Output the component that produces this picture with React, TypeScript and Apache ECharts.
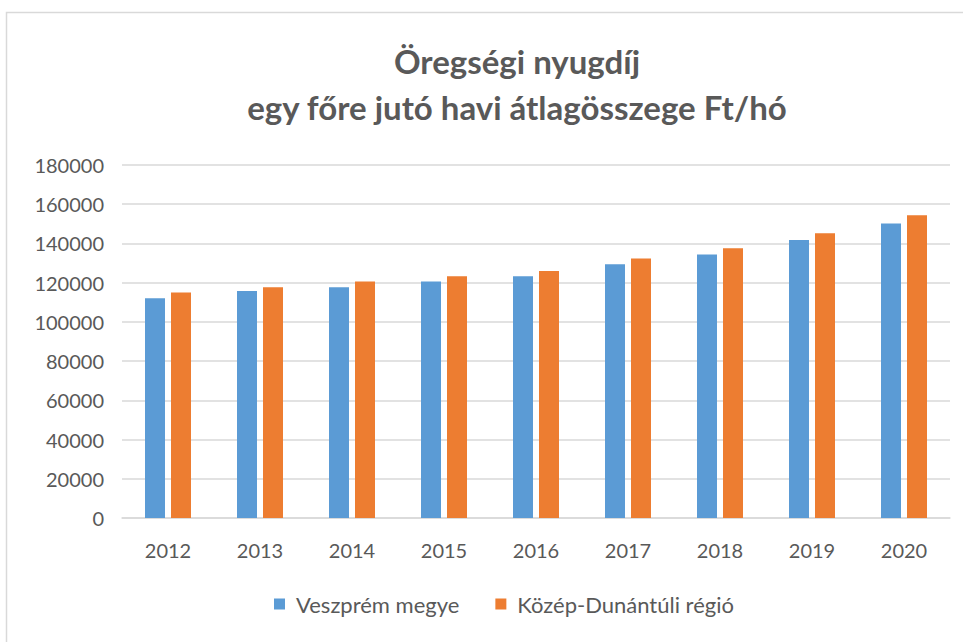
import React, { useEffect, useRef } from "react";
import * as echarts from "echarts";

const categories = ["2012", "2013", "2014", "2015", "2016", "2017", "2018", "2019", "2020"];
const veszpremValues = [112100, 115700, 117700, 120600, 123300, 129400, 134300, 141800, 150200];
const kozepDunantulValues = [115000, 117700, 120600, 123300, 126000, 132300, 137600, 145200, 154400];
const seriesNames = ["Veszprém megye", "Közép-Dunántúli régió"];
const titleLines = ["Öregségi nyugdíj", "egy főre jutó havi átlagösszege Ft/hó"];

export default function App() {
  const ref = useRef<HTMLDivElement>(null);
  useEffect(() => {
    document.body.style.margin = "0";
    if (!ref.current) return;
    const chart = echarts.init(ref.current, undefined, { renderer: "svg" });
    const font = "Lato, 'Open Sans', sans-serif";
    chart.setOption({
      animation: false,
      backgroundColor: "#ffffff",
      textStyle: { fontFamily: font },
      graphic: [
        {
          type: "rect",
          shape: { x: 6.5, y: 12.5, width: 970, height: 640 },
          style: { fill: "none", stroke: "#d9d9d9", lineWidth: 1.5 },
          silent: true,
        },
      ],
      title: {
        text: titleLines.join("\n"),
        left: 512,
        textAlign: "center",
        top: 33,
        textStyle: {
          fontFamily: font,
          fontSize: 33,
          fontWeight: "bold",
          color: "#595959",
          lineHeight: 46,
        },
      },
      legend: {
        data: seriesNames,
        bottom: 22,
        left: 269,
        itemWidth: 11,
        itemHeight: 11,
        itemGap: 36,
        icon: "rect",
        textStyle: { fontFamily: font, fontSize: 22, color: "#595959", padding: [0, 0, 0, 6] },
      },
      grid: { left: 122, right: 13, top: 165, bottom: 124, containLabel: false },
      xAxis: {
        type: "category",
        data: categories,
        axisLine: { lineStyle: { color: "#d9d9d9", width: 1.5 } },
        axisTick: { show: false },
        axisLabel: { fontFamily: font, fontSize: 20, color: "#595959", margin: 22 },
      },
      yAxis: {
        type: "value",
        min: 0,
        max: 180000,
        interval: 20000,
        axisLine: { show: false },
        axisTick: { show: false },
        splitLine: { lineStyle: { color: "#d9d9d9", width: 1.5 } },
        axisLabel: {
          fontFamily: font,
          fontSize: 20,
          color: "#595959",
          margin: 18,
          formatter: (v: number) => String(v),
        },
      },
      series: [
        {
          name: seriesNames[0],
          type: "bar",
          data: veszpremValues,
          itemStyle: { color: "#5b9bd5" },
          barGap: "30%",
          barCategoryGap: "50%",
        },
        {
          name: seriesNames[1],
          type: "bar",
          data: kozepDunantulValues,
          itemStyle: { color: "#ed7d31" },
          barGap: "30%",
          barCategoryGap: "50%",
        },
      ],
    });
    return () => chart.dispose();
  }, []);
  return <div ref={ref} style={{ width: 963, height: 642 }} />;
}
